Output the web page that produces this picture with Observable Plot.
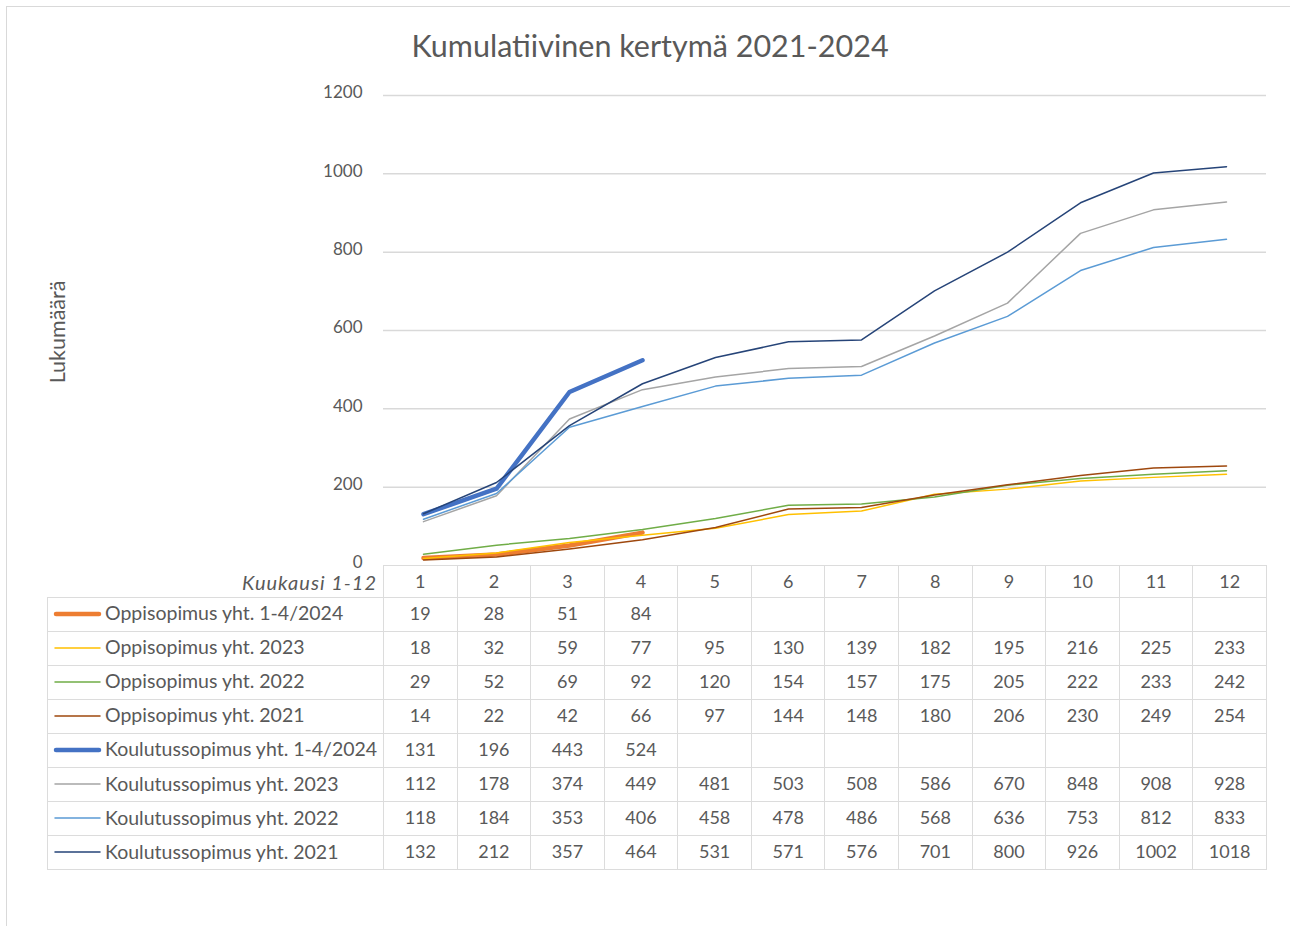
<!DOCTYPE html>
<html>
<head>
<meta charset="utf-8">
<script src="https://cdn.jsdelivr.net/npm/d3@7"></script>
<script src="https://cdn.jsdelivr.net/npm/@observablehq/plot@0.6"></script>
<style>
  html, body { margin: 0; padding: 0; background: #fff; }
  #root { position: relative; width: 1290px; height: 926px; background: #fff; font-family: Lato, "Open Sans", sans-serif; color: #595959; overflow: hidden; }
  #frame { position: absolute; left: 6px; top: 6px; width: 1300px; height: 940px; border-left: 1.5px solid #d9d9d9; border-top: 1.5px solid #d9d9d9; }
  #title { position: absolute; left: 650px; top: 27px; transform: translateX(-50%); font-size: 30.5px; white-space: nowrap; color: #595959; }
  #ytitle { position: absolute; left: 57px; top: 332px; transform: translate(-50%, -50%) rotate(-90deg); font-size: 21.5px; white-space: nowrap; }
  #chart { position: absolute; left: 0; top: 0; }
  #chart svg { overflow: visible; }
  table { position: absolute; left: 47px; top: 565px; border-collapse: collapse; table-layout: fixed; width: 1219px; font-size: 18px; color: #595959; }
  td { border: 1.5px solid #dcdcdc; padding: 0; text-align: center; height: 33.05px; white-space: nowrap; }
  td span.v { position: relative; top: -2px; }
  tr.head td { height: 31px; }
  tr.head td span.v { top: -1px; }
  td.lab { text-align: left; padding-left: 5px; font-size: 19.5px; }
  td.lab svg { vertical-align: middle; margin-right: 3px; position: relative; top: -2px; }
  td.lab span.v { vertical-align: middle; top: -3px; }
  tr.head td.corner { border-left: none; border-top: none; text-align: right; padding-right: 6px; font-style: italic; font-size: 20px; letter-spacing: 1px; line-height: 20px; }
  tr.head td.corner span.c { position: relative; top: 1px; }
</style>
</head>
<body>
<div id="root">
  <div id="frame"></div>
  <div id="title">Kumulatiivinen kertymä 2021-2024</div>
  <div id="ytitle">Lukumäärä</div>
  <div id="chart"></div>
</div>
<script>
const months = [1, 2, 3, 4, 5, 6, 7, 8, 9, 10, 11, 12];
const yTicks = [0, 200, 400, 600, 800, 1000, 1200];
const seriesNames = [
  "Oppisopimus yht. 1-4/2024",
  "Oppisopimus yht. 2023",
  "Oppisopimus yht. 2022",
  "Oppisopimus yht. 2021",
  "Koulutussopimus yht. 1-4/2024",
  "Koulutussopimus yht. 2023",
  "Koulutussopimus yht. 2022",
  "Koulutussopimus yht. 2021"
];
const opp2024 = [19, 28, 51, 84];
const opp2023 = [18, 32, 59, 77, 95, 130, 139, 182, 195, 216, 225, 233];
const opp2022 = [29, 52, 69, 92, 120, 154, 157, 175, 205, 222, 233, 242];
const opp2021 = [14, 22, 42, 66, 97, 144, 148, 180, 206, 230, 249, 254];
const kou2024 = [131, 196, 443, 524];
const kou2023 = [112, 178, 374, 449, 481, 503, 508, 586, 670, 848, 908, 928];
const kou2022 = [118, 184, 353, 406, 458, 478, 486, 568, 636, 753, 812, 833];
const kou2021 = [132, 212, 357, 464, 531, 571, 576, 701, 800, 926, 1002, 1018];
const seriesValues = [opp2024, opp2023, opp2022, opp2021, kou2024, kou2023, kou2022, kou2021];
const seriesColors = ["#ED7D31", "#FFC000", "#70AD47", "#9E480E", "#4472C4", "#A5A5A5", "#5B9BD5", "#264478"];
const seriesWidths = [4.5, 1.5, 1.5, 1.5, 4.5, 1.5, 1.5, 1.5];

const rows = [];
seriesNames.forEach((name, i) => {
  seriesValues[i].forEach((v, j) => rows.push({series: name, month: months[j], value: v}));
});

const W = 1290, H = 580;
const mL = 383, mR = 24, mT = 95, mB = 15;

const lineMarks = seriesNames.map((name, i) =>
  Plot.line(rows.filter(d => d.series === name), {
    x: "month", y: "value",
    stroke: seriesColors[i], strokeWidth: seriesWidths[i],
    strokeLinejoin: "round", strokeLinecap: "round"
  })
);

const chart = Plot.plot({
  width: W, height: H,
  marginLeft: mL, marginRight: mR, marginTop: mT, marginBottom: mB,
  style: {fontFamily: "Lato, 'Open Sans', sans-serif", background: "transparent", overflow: "visible"},
  x: {type: "point", domain: months, padding: 0.5, axis: null},
  y: {domain: [0, 1200], axis: null},
  marks: [
    Plot.gridY(yTicks.filter(t => t > 0), {stroke: "#d9d9d9", strokeOpacity: 1, strokeWidth: 1.5}),
    Plot.axisY(yTicks, {tickSize: 0, tickPadding: 21, fontSize: 17, fill: "#595959", label: null, dy: -2.5, tickFormat: d => String(d)}),
    ...lineMarks
  ]
});
document.getElementById("chart").appendChild(chart);

// data table below the chart
const root = document.getElementById("root");
const table = document.createElement("table");
const colgroup = document.createElement("colgroup");
const c0 = document.createElement("col"); c0.style.width = "336px"; colgroup.appendChild(c0);
const colW = (W - mR - mL) / months.length;
months.forEach(() => { const c = document.createElement("col"); c.style.width = colW + "px"; colgroup.appendChild(c); });
table.appendChild(colgroup);

const head = document.createElement("tr");
head.className = "head";
const corner = document.createElement("td");
corner.className = "corner";
corner.innerHTML = '<span class="c">Kuukausi 1-12</span>';
head.appendChild(corner);
months.forEach(m => {
  const td = document.createElement("td");
  const s = document.createElement("span"); s.className = "v"; s.textContent = m;
  td.appendChild(s);
  head.appendChild(td);
});
table.appendChild(head);

seriesNames.forEach((name, i) => {
  const tr = document.createElement("tr");
  const lab = document.createElement("td");
  lab.className = "lab";
  const sw = seriesWidths[i];
  lab.innerHTML = `<svg width="49" height="10"><line x1="${sw > 2 ? 3 : 2}" x2="${sw > 2 ? 46 : 47}" y1="5" y2="5" stroke="${seriesColors[i]}" stroke-width="${sw > 2 ? 4.5 : 1.5}" stroke-linecap="round"/></svg><span class="v">${name}</span>`;
  tr.appendChild(lab);
  months.forEach((m, j) => {
    const td = document.createElement("td");
    const v = seriesValues[i][j];
    if (v !== undefined) {
      const s = document.createElement("span"); s.className = "v"; s.textContent = v;
      td.appendChild(s);
    }
    tr.appendChild(td);
  });
  table.appendChild(tr);
});
root.appendChild(table);
</script>
</body>
</html>
